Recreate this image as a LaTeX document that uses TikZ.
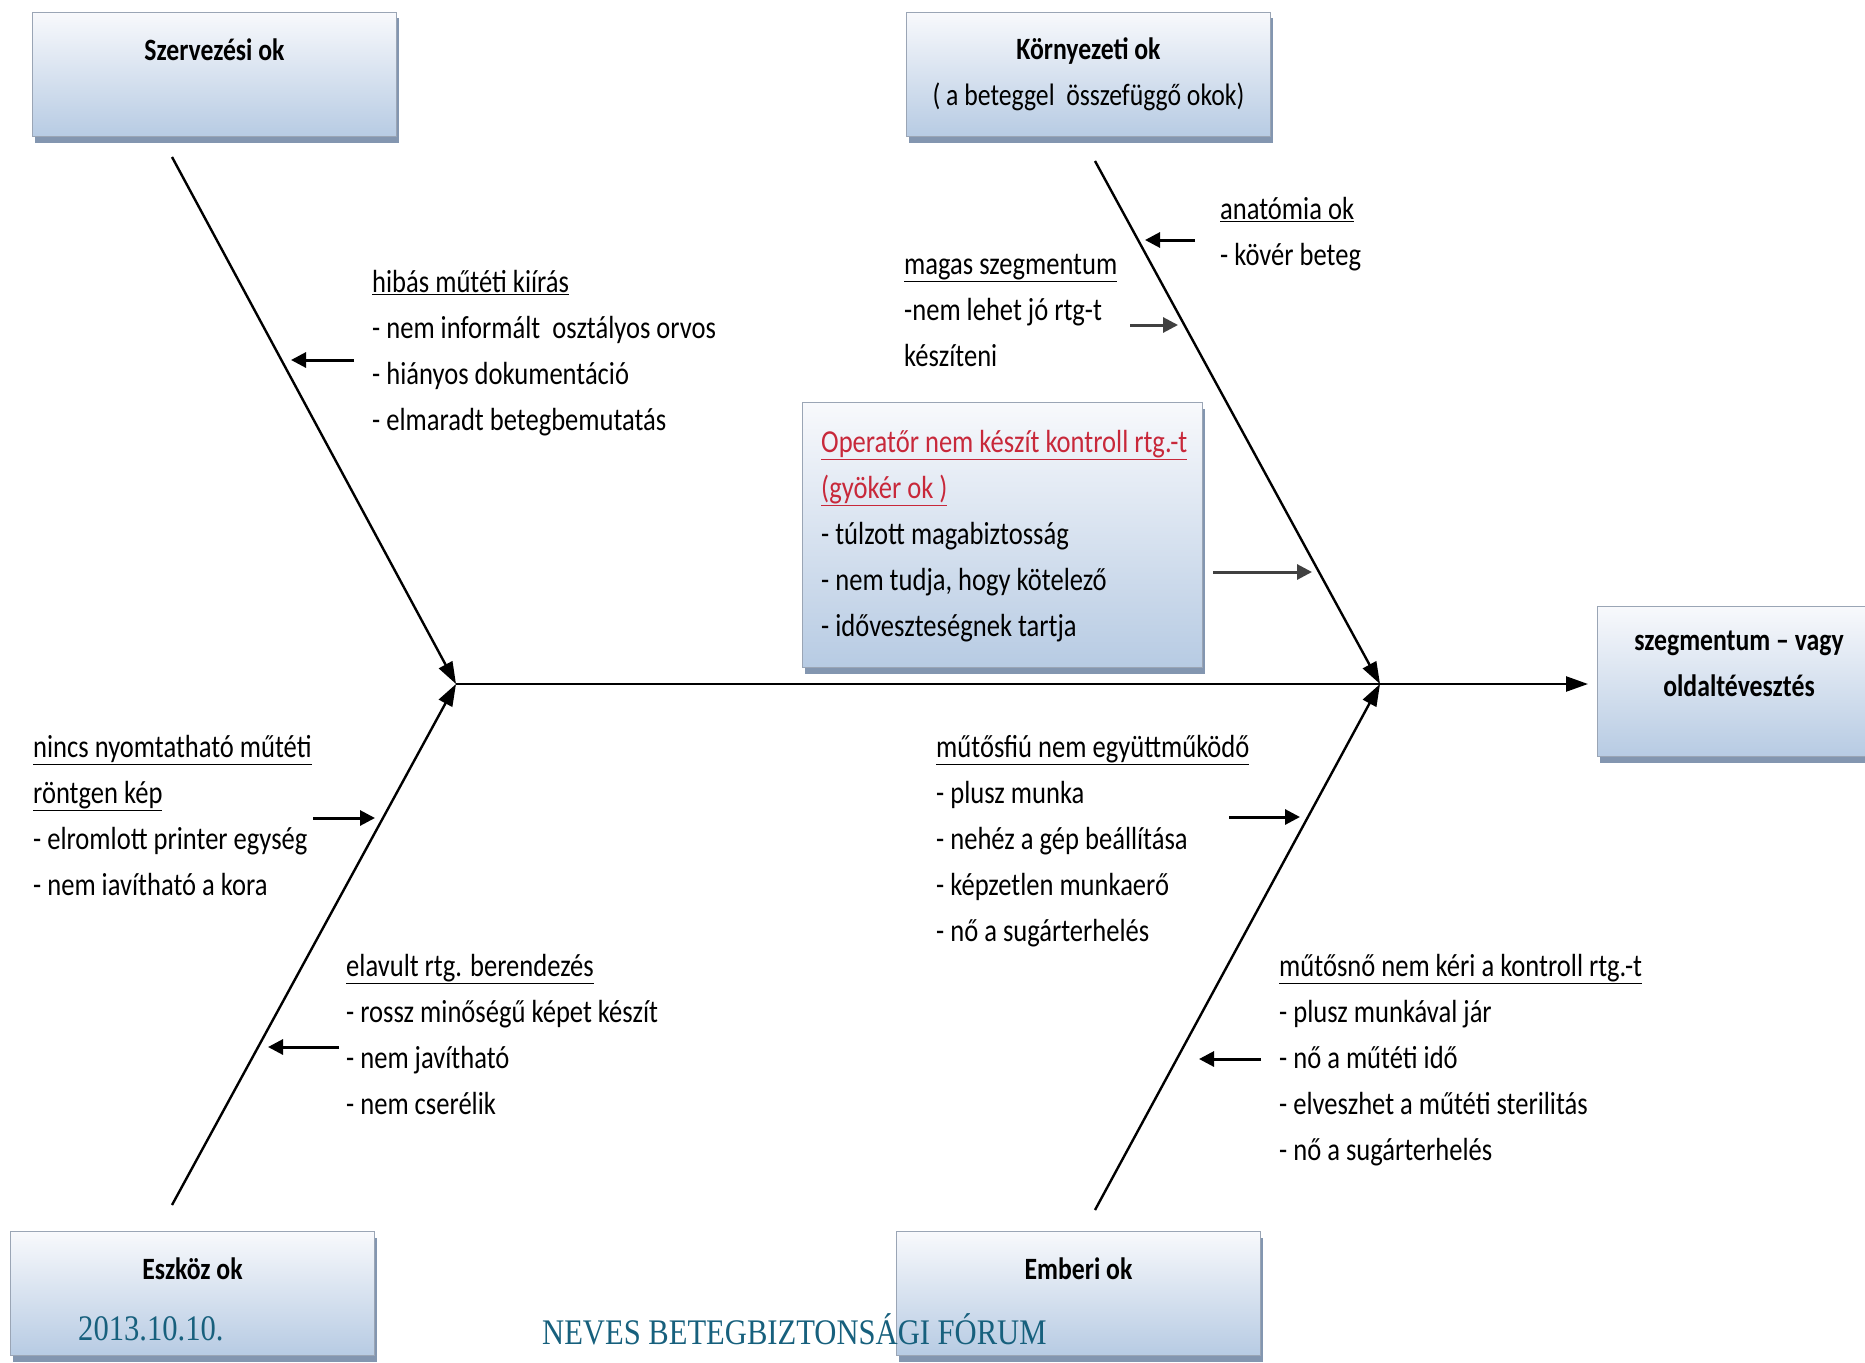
\documentclass[tikz,border=0pt]{standalone}
\usepackage{fontspec}
\setmainfont[FakeStretch=0.83]{Carlito}
\newfontfamily\footfont[FakeStretch=0.85]{Liberation Serif}
\usetikzlibrary{positioning,arrows.meta,shadows}

\definecolor{boxtop}{HTML}{F8F9FC}
\definecolor{boxbottom}{HTML}{B7CBE3}
\definecolor{boxline}{HTML}{9AA5B5}
\definecolor{boxshade}{HTML}{8396B0}
\definecolor{opred}{HTML}{C8283A}
\definecolor{footc}{HTML}{17607D}

\newcommand*{\bodysize}{\fontsize{32}{46}\selectfont}
\newcommand*{\titlesize}{\fontsize{31}{46}\selectfont}

\tikzset{
  catbox/.style={draw=boxline, line width=1pt, top color=boxtop, bottom color=boxbottom,
    anchor=north west, minimum width=364pt, minimum height=124pt,
    drop shadow={shadow xshift=2pt, shadow yshift=-6pt, fill=boxshade, opacity=1}},
  boxtitle/.style={align=center, inner sep=0pt, font=\titlesize},
  cause/.style={anchor=north west, inner sep=0pt, align=left, font=\bodysize},
  bone/.style={line width=2.4pt, -{Triangle[length=22pt,width=15pt]}},
  hint/.style={line width=3pt, -{Triangle[length=15pt,width=15pt]}},
  footer/.style={anchor=west, inner sep=0pt, text=footc, font=\footfont\fontsize{36}{40}\selectfont},
}

\begin{document}
\begin{tikzpicture}[x=1pt, y=-1pt]
\useasboundingbox (0,0) rectangle (1865,1362);

% category boxes
\node (SZ) [catbox] at (32,12) {};
\node (KO) [catbox] at (906,12) {};
\node (ES) [catbox] at (10,1231) {};
\node (EM) [catbox] at (896,1231) {};
\node (SEG) [catbox, minimum width=283pt, minimum height=150pt] at (1597,606) {};
\node (OP) [catbox, minimum width=400pt, minimum height=265pt] at (802,402) {};

\node (SZt) [boxtitle, below=27pt of SZ.north] {\bfseries Szervezési ok};
\node (KOt) [boxtitle, below=26pt of KO.north] {\bfseries Környezeti ok\\( a beteggel\ \ összefüggő okok)};
\node (ESt) [boxtitle, below=27pt of ES.north] {\bfseries Eszköz ok};
\node (EMt) [boxtitle, below=27pt of EM.north] {\bfseries Emberi ok};
\node (SEGt) [boxtitle, below=25pt of SEG.north] {\bfseries szegmentum -- vagy\\\bfseries oldaltévesztés};

% bones
\coordinate (J1) at (456,684);
\coordinate (J2) at (1380,684);
\coordinate (T1) at (172,157);
\coordinate (T2) at (172,1205);
\coordinate (T3) at (1095,161);
\coordinate (T4) at (1095,1210);
\draw[bone] (T1) -- (J1);
\draw[bone] (T2) -- (J1);
\draw[bone] (T3) -- (J2);
\draw[bone] (T4) -- (J2);
\draw[bone, shorten >=9pt] (J1) -- (J1 -| SEG.west);

% causes
\node (hib) [cause] at (372,260) {\strut\underline{hibás műtéti kiírás}\\- nem informált\ \ osztályos orvos\\- hiányos dokumentáció\\- elmaradt betegbemutatás};
\node (ana) [cause] at (1220,187) {\strut\underline{anatómia ok}\\- kövér beteg};
\node (mag) [cause] at (904,242) {\strut\underline{magas szegmentum}\\-nem lehet jó rtg-t\\készíteni};
\node (opr) [cause] at (821,420) {\strut{\color{opred}\underline{Operatőr nem készít kontroll rtg.-t}}\\{\color{opred}\underline{(gyökér ok )}}\\- túlzott magabiztosság\\- nem tudja, hogy kötelező\\- időveszteségnek tartja};
\node (nin) [cause] at (33,725) {\strut\underline{nincs nyomtatható műtéti}\\\underline{röntgen kép}\\- elromlott printer egység\\- nem iavítható a kora};
\node (ela) [cause] at (346,944) {\strut\underline{elavult rtg. berendezés}\\- rossz minőségű képet készít\\- nem javítható\\- nem cserélik};
\node (fiu) [cause] at (936,725) {\strut\underline{műtősfiú nem együttműködő}\\- plusz munka\\- nehéz a gép beállítása\\- képzetlen munkaerő\\- nő a sugárterhelés};
\node (nov) [cause] at (1279,944) {\strut\underline{műtősnő nem kéri a kontroll rtg.-t}\\- plusz munkával jár\\- nő a műtéti idő\\- elveszhet a műtéti sterilitás\\- nő a sugárterhelés};

% small arrows
\coordinate (hibA) at (354,360);  \coordinate (hibB) at (291,360);
\coordinate (anaA) at (1195,240); \coordinate (anaB) at (1145,240);
\coordinate (magA) at (1130,325); \coordinate (magB) at (1178,325);
\coordinate (oprA) at (1213,572); \coordinate (oprB) at (1312,572);
\coordinate (ninA) at (313,818);  \coordinate (ninB) at (375,818);
\coordinate (elaA) at (339,1047); \coordinate (elaB) at (268,1047);
\coordinate (fiuA) at (1229,817); \coordinate (fiuB) at (1300,817);
\coordinate (novA) at (1261,1059); \coordinate (novB) at (1199,1059);
\draw[hint] (hibA) -- (hibB);
\draw[hint] (anaA) -- (anaB);
\draw[hint, black!75] (magA) -- (magB);
\draw[hint, black!75] (oprA) -- (oprB);
\draw[hint] (ninA) -- (ninB);
\draw[hint] (elaA) -- (elaB);
\draw[hint] (fiuA) -- (fiuB);
\draw[hint] (novA) -- (novB);

% footer
\node (date) [footer] at (78,1329) {2013.10.10.};
\node (forum) [footer] at (542,1329) {NEVES BETEGBIZTONSÁGI FÓRUM};
\end{tikzpicture}
\end{document}
